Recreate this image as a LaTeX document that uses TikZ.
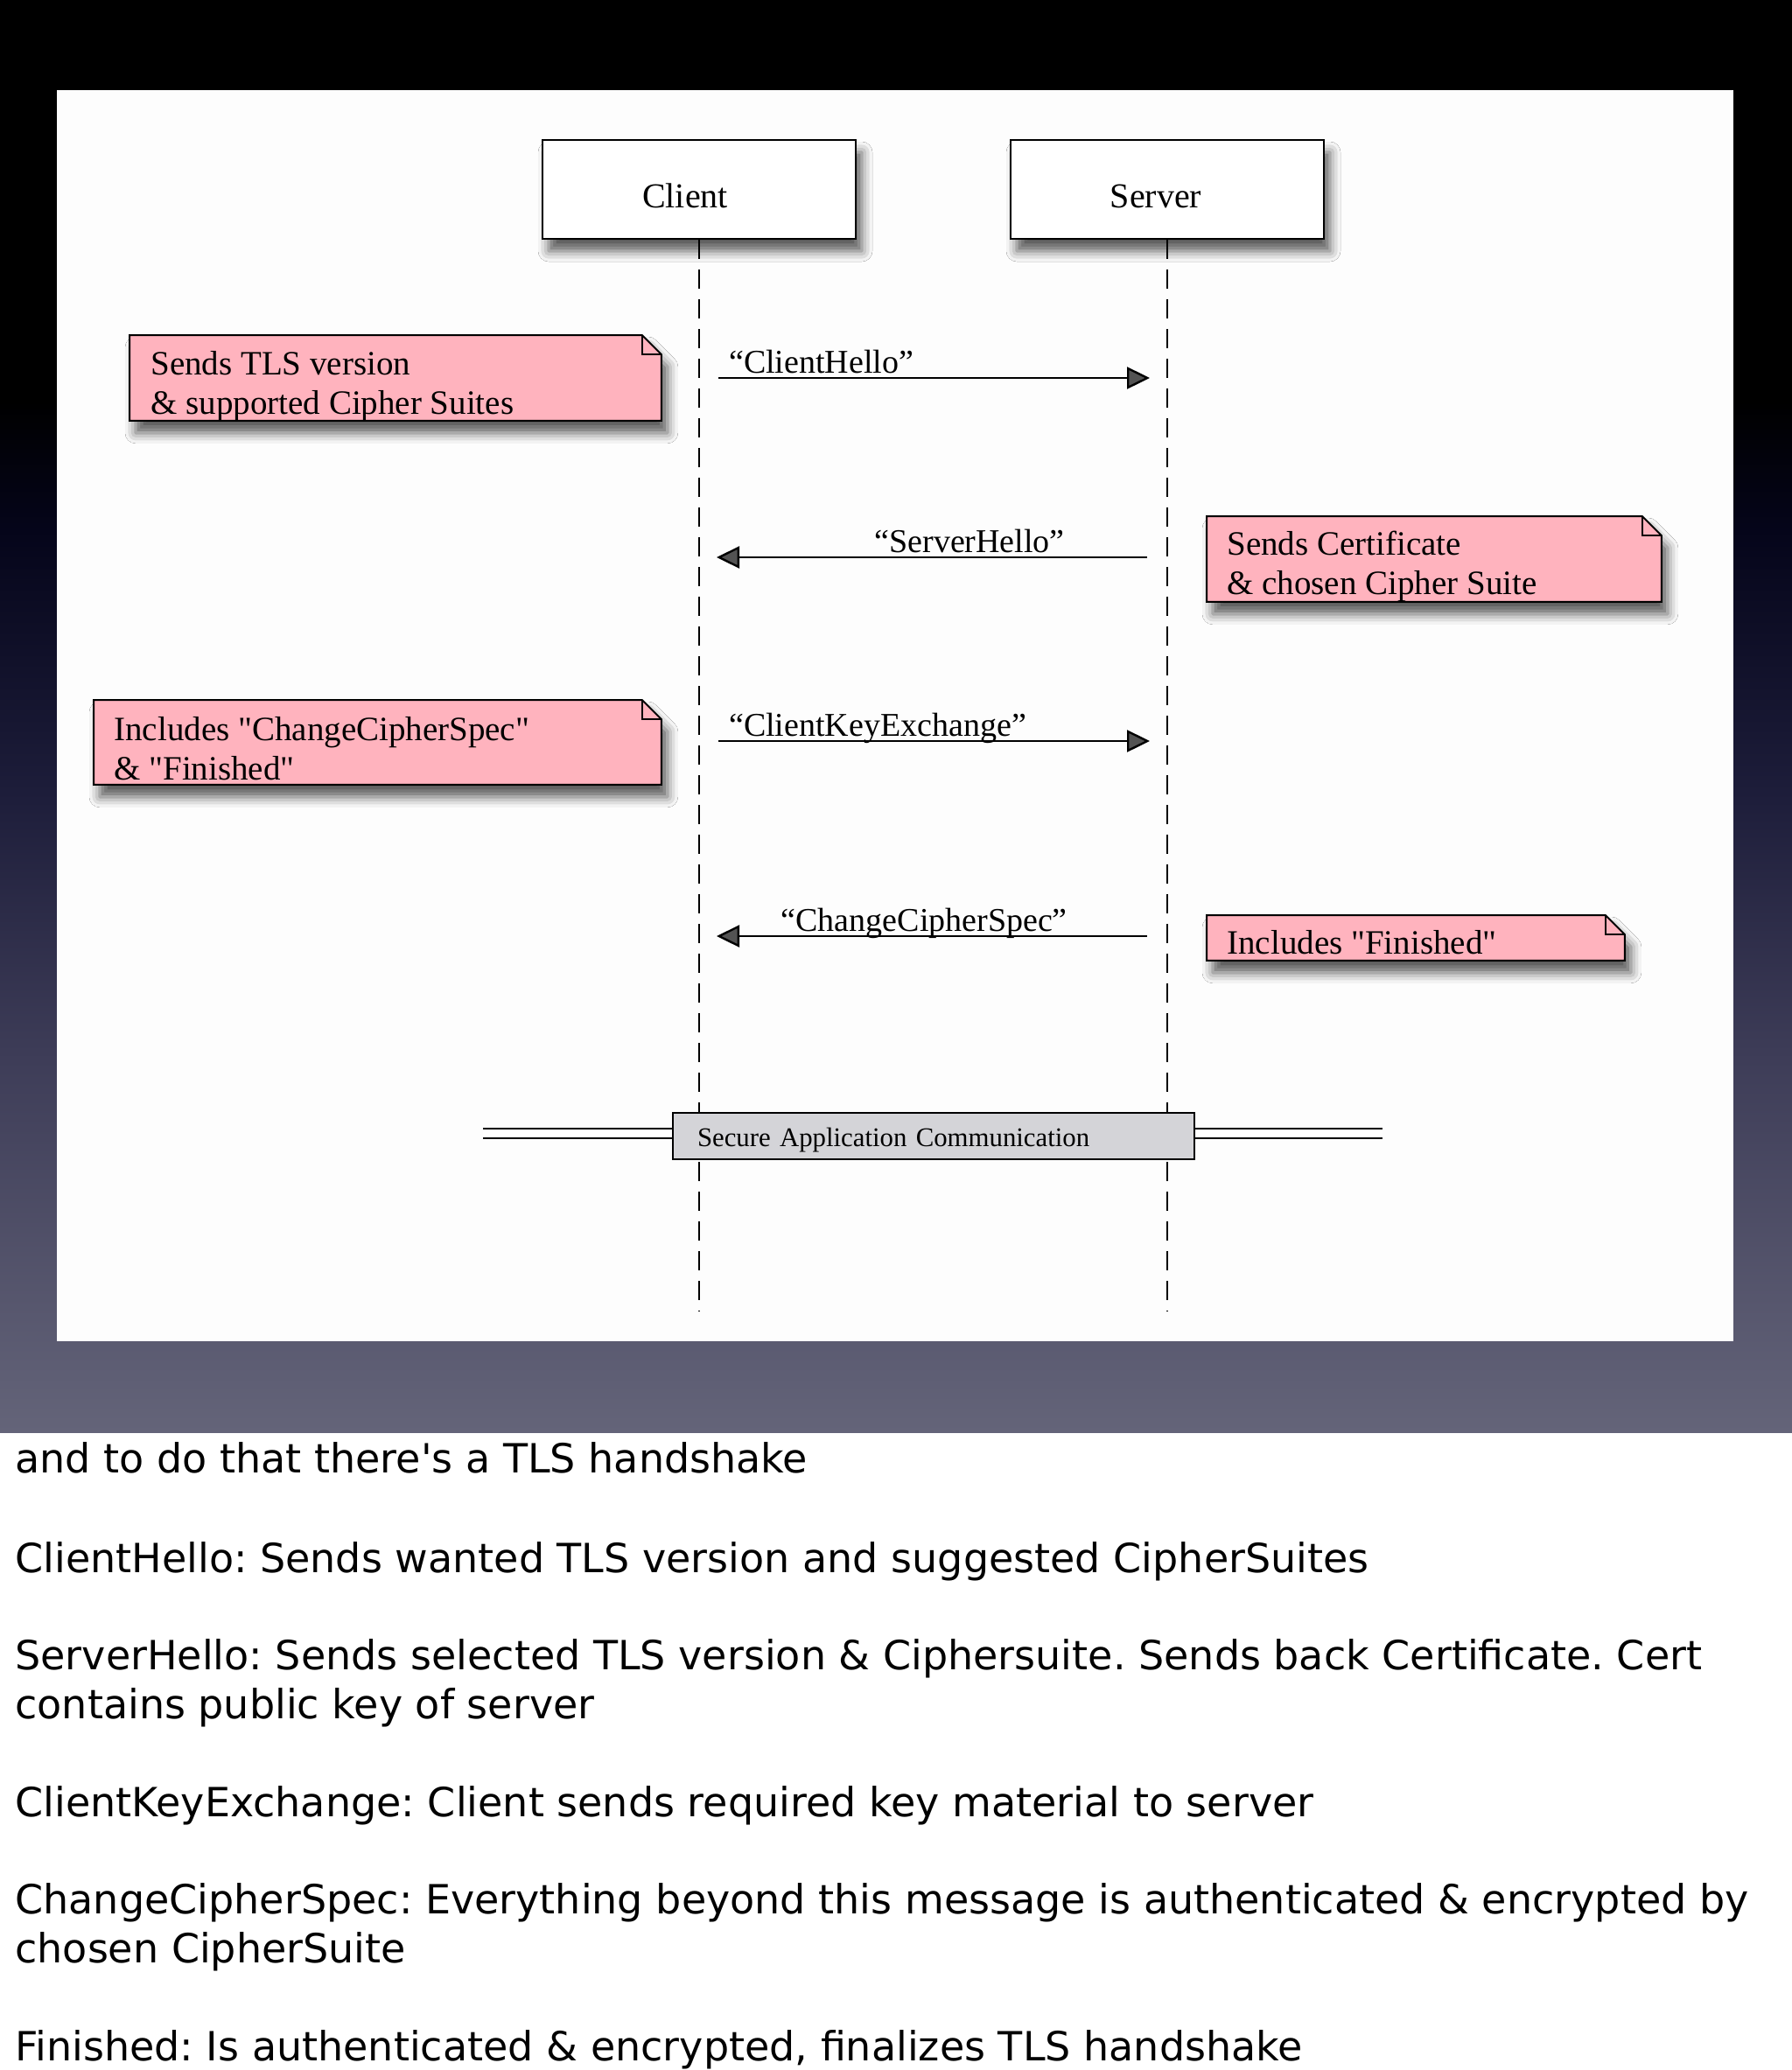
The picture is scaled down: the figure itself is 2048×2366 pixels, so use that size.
\documentclass[tikz,border=0pt]{standalone}
\usepackage{fontspec}
\setmainfont{Liberation Serif}[Ligatures=TeXOff]
\newfontfamily\notesfont{DejaVu Sans}[Ligatures=TeXOff]
\usetikzlibrary{arrows.meta,shadows.blur}
\definecolor{notepink}{HTML}{FFB3BE}
\definecolor{sacgray}{HTML}{D4D4D8}
\definecolor{slA}{HTML}{646479}
\definecolor{slB}{HTML}{5E5E74}
\definecolor{slC}{HTML}{3E3D58}
\definecolor{slD}{HTML}{1D1D3A}
\definecolor{slE}{HTML}{05051A}
\definecolor{panelw}{HTML}{FDFDFD}
\pgfdeclareverticalshading{slidebg}{100bp}{color(0bp)=(slA); color(25bp)=(slA); color(27bp)=(slB); color(38bp)=(slC); color(47.35bp)=(slD); color(56.5bp)=(slE); color(61bp)=(black); color(100bp)=(black)}
\frenchspacing
\begin{document}
\begin{tikzpicture}[x=0.5pt,y=-0.5pt,
  actor/.style={draw, line width=1.1pt, fill=white, minimum width=179pt, minimum height=56.5pt,
    inner sep=0pt, text height=20.5pt, text depth=0pt, font=\fontsize{20}{24}\selectfont,
    blur shadow={shadow xshift=3.5pt, shadow yshift=-7pt, shadow blur radius=6pt, shadow opacity=65}},
  lifeline/.style={line width=1.1pt, dash pattern=on 11pt off 6pt},
  noteframe/.style={inner sep=0pt, draw=none, fill=none, anchor=north west},
  notepath/.style={draw, line width=1pt, fill=notepink,
    blur shadow={shadow xshift=3.5pt, shadow yshift=-7pt, shadow blur radius=6pt, shadow opacity=65}},
  foldline/.style={line width=0.8pt},
  notetext/.style={inner sep=0pt, anchor=west, align=left, font=\fontsize{19.5}{22.5}\selectfont},
  msg/.style={line width=1.2pt, -{Triangle[length=13pt,width=12.5pt]}},
  msglabel/.style={inner sep=0pt, font=\fontsize{19}{22}\selectfont},
  sacbox/.style={draw, line width=1.1pt, fill=sacgray, minimum height=26.5pt, text width=270pt,
    inner xsep=14pt, inner ysep=0pt, text height=15pt, text depth=3.4pt, align=left,
    font=\fontsize{15.4}{18}\selectfont},
  dbl/.style={double, double distance=4.25pt, line width=1.25pt},
  notes/.style={inner sep=0pt, anchor=base west, font=\notesfont\fontsize{23}{28}\selectfont}
]
\useasboundingbox (0,0) rectangle (2048,2366);
\fill[white] (0,0) rectangle (2048,2366);
\shade[shading=slidebg] (0,0) rectangle (2048,1637);
\fill[panelw] (65,103) rectangle (1981,1533);

% actors
\node[actor] (client) at (799,216.5) {Client\hspace*{16pt}};
\node[actor] (server) at (1334,216.5) {Server\hspace*{13pt}};
\coordinate (cend) at (799,1499);
\coordinate (send) at (1334,1499);
\draw[lifeline] (client.south) -- (cend);
\draw[lifeline] (server.south) -- (send);

% notes
\node[noteframe, minimum width=303.5pt, minimum height=48.5pt] (n1) at (148,383) {};
\node[noteframe, minimum width=259.5pt, minimum height=48.5pt] (n2) at (1379,590) {};
\node[noteframe, minimum width=324pt, minimum height=48pt] (n3) at (107,800) {};
\node[noteframe, minimum width=238.5pt, minimum height=25.5pt] (n4) at (1379,1046) {};
\foreach \n in {n1,n2,n3,n4}{
  \path[notepath] (\n.south west) -- (\n.north west) -- ([xshift=-11pt]\n.north east)
    -- ([yshift=-11pt]\n.north east) -- (\n.south east) -- cycle;
  \draw[foldline] ([xshift=-11pt]\n.north east) |- ([yshift=-11pt]\n.north east);
}
\node[notetext] (t1) at ([xshift=12pt,yshift=-4.75pt]n1.west) {Sends TLS version\\\& supported Cipher Suites};
\node[notetext] (t2) at ([xshift=11.5pt,yshift=-4.5pt]n2.west) {Sends Certificate\\\& chosen Cipher Suite};
\node[notetext] (t3) at ([xshift=11.5pt,yshift=-3.5pt]n3.west) {Includes "ChangeCipherSpec"\\\& "Finished"};
\node[notetext] (t4) at ([xshift=11.5pt,yshift=-2.75pt]n4.west) {Includes "Finished"};

% messages
\coordinate (m1s) at (821,432);  \coordinate (m1e) at (1314,432);
\coordinate (m2s) at (1311,637); \coordinate (m2e) at (819,637);
\coordinate (m3s) at (821,847);  \coordinate (m3e) at (1314,847);
\coordinate (m4s) at (1311,1070);\coordinate (m4e) at (819,1070);
\draw[msg] (m1s) -- (m1e) node[msglabel, pos=0, anchor=base west, xshift=5.5pt, yshift=3pt] (l1) {“ClientHello”};
\draw[msg] (m2s) -- (m2e) node[msglabel, pos=0, anchor=base east, xshift=-46.5pt, yshift=3pt] (l2) {“ServerHello”};
\draw[msg] (m3s) -- (m3e) node[msglabel, pos=0, anchor=base west, xshift=5.5pt, yshift=3pt] (l3) {“ClientKeyExchange”};
\draw[msg] (m4s) -- (m4e) node[msglabel, pos=0, anchor=base east, xshift=-45pt, yshift=3pt] (l4) {“ChangeCipherSpec”};

% secure application communication
\node[sacbox] (sac) at (1067,1298.5) {Secure Application Communication};
\coordinate (dl) at (552,1295.5);
\coordinate (dr) at (1580,1295.5);
\draw[dbl] (dl) -- (dl -| sac.west);
\draw[dbl] (dr -| sac.east) -- (dr);

% speaker notes
\node[notes] (p1) at (17,1683) {and to do that there's a TLS handshake};
\node[notes] (p2) at (17,1797) {ClientHello: Sends wanted TLS version and suggested CipherSuites};
\node[notes] (p3a) at (17,1908) {ServerHello: Sends selected TLS version \& Ciphersuite. Sends back Certificate. Cert};
\node[notes] (p3b) at (17,1964) {contains public key of server};
\node[notes] (p4) at (17,2076) {ClientKeyExchange: Client sends required key material to server};
\node[notes] (p5a) at (17,2187) {ChangeCipherSpec: Everything beyond this message is authenticated \& encrypted by};
\node[notes] (p5b) at (17,2243) {chosen CipherSuite};
\node[notes] (p6) at (17,2355) {Finished: Is authenticated \& encrypted, finalizes TLS handshake};
\end{tikzpicture}
\end{document}
